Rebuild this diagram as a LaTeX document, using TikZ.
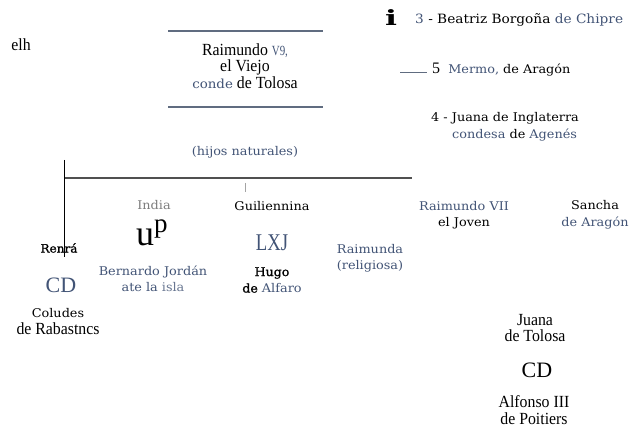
\documentclass[tikz,border=0pt]{standalone}
\usepackage{fontspec}
\setmainfont{Liberation Serif}
\newfontfamily\cond[FakeStretch=0.93]{Liberation Serif}
\newfontfamily\slim[FakeStretch=0.78]{Liberation Serif}
\newfontfamily\wide[FakeStretch=1.07]{DejaVu Serif}
\newfontfamily\heavy[FakeStretch=1.05,FakeBold=1.2]{DejaVu Serif}
\definecolor{slate}{RGB}{66,84,118}
\definecolor{rulegrey}{RGB}{96,108,128}
\definecolor{darkline}{RGB}{80,80,80}
\definecolor{softgrey}{RGB}{125,125,125}
\begin{document}
\begin{tikzpicture}[x=1pt,y=-1pt,
  lbl/.style={inner sep=0pt,align=center,anchor=center},
  narrow/.style={lbl,font=\cond\fontsize{17}{16.8}\selectfont},
  broad/.style={lbl,font=\wide\fontsize{12}{16.5}\selectfont},
  big/.style={lbl,font=\fontsize{22}{22}\selectfont}]
\useasboundingbox[fill=white] (0,0) rectangle (629,427);

% head of the family
\node[narrow] (elh) at (21,45) {elh};
\node[narrow] (raimundo) at (245,66) {Raimundo {\slim\color{slate}\fontsize{14}{14}\selectfont V9,}\\el Viejo\\{\wide\fontsize{12.5}{12.5}\selectfont\color{slate}conde} de Tolosa};
\coordinate (ruleA1) at (168,31); \coordinate (ruleA2) at (323,31);
\coordinate (ruleB1) at (168,107); \coordinate (ruleB2) at (323,107);
\draw[rulegrey,line width=1.3pt] (ruleA1) -- (ruleA2);
\draw[rulegrey,line width=1.3pt] (ruleB1) -- (ruleB2);

% wives
\node[lbl,font=\wide\bfseries\fontsize{21}{21}\selectfont] (mark) at (391,18) {\scalebox{1.4}[1]{i}};
\node[broad,anchor=west,font=\wide\fontsize{12.8}{16.5}\selectfont] (beatriz) at (415,20) {{\color{slate}3} - Beatriz Borgoña {\color{slate}de Chipre}};
\coordinate (mlineA) at (400,73); \coordinate (mlineB) at (427,73);
\draw[rulegrey,line width=1pt] (mlineA) -- (mlineB);
\node[broad,anchor=west] (mermo) at (432,70) {{\rmfamily\fontsize{16}{16}\selectfont 5}\hspace{4pt} {\color{slate}Mermo,} de Aragón};
\node[broad,anchor=west] (juanaI) at (431,118) {4 - Juana de Inglaterra};
\node[broad,anchor=west] (agenes) at (452,135) {{\color{slate}condesa} de {\color{slate}Agenés}};

% natural children
\node[broad,text=slate] (hijos) at (245,152) {(hijos naturales)};
\coordinate (barL) at (64,178); \coordinate (barR) at (412,178);
\coordinate (stemT) at (64,160); \coordinate (stemB) at (64,257);
\coordinate (tickT) at (245,183); \coordinate (tickB) at (245,192);
\draw[darkline,line width=1.3pt] (barL) -- (barR);
\draw[black,line width=1pt] (stemT) -- (stemB);
\draw[softgrey!70,line width=1pt] (tickT) -- (tickB);

\node[broad,text=softgrey] (india) at (154,205) {India};
\node[lbl,anchor=base west,font=\fontsize{36}{36}\selectfont] (up) at (136,246) {u\raisebox{13pt}{\fontsize{27}{27}\selectfont p}};
\node[broad,text=slate] (bernardo) at (153,279) {Bernardo Jordán\\ate la {\color{slate!80}isla}};

\node[broad] (guil) at (272,206) {Guiliennina};
\node[lbl,text=slate,font=\slim\fontsize{24}{24}\selectfont] (lxj) at (272,243) {LXJ};
\node[broad] (hugo) at (272,280) {{\heavy Hugo}\\{\heavy de} {\color{slate}Alfaro}};

\node[lbl,font=\heavy\fontsize{11.5}{11.5}\selectfont] (renra) at (59,248) {Renrá};
\node[big,text=slate] (cdA) at (61,285) {CD};
\node[broad] (coludes) at (58,313) {Coludes};
\node[narrow] (rabast) at (58,329) {de Rabastncs};

\node[broad,text=slate] (raimunda) at (370,258.5) {Raimunda\\(religiosa)};

% legitimate line
\node[broad] (rvii) at (464,215) {{\color{slate}Raimundo VII}\\el Joven};
\node[broad] (sancha) at (595,215) {Sancha\\{\color{slate}de Aragón}};
\node[narrow] (juanaT) at (535,328) {Juana\\de Tolosa};
\node[big] (cdB) at (537,370) {CD};
\node[narrow] (alfonso) at (534,410) {Alfonso III\\de Poitiers};
\end{tikzpicture}
\end{document}
